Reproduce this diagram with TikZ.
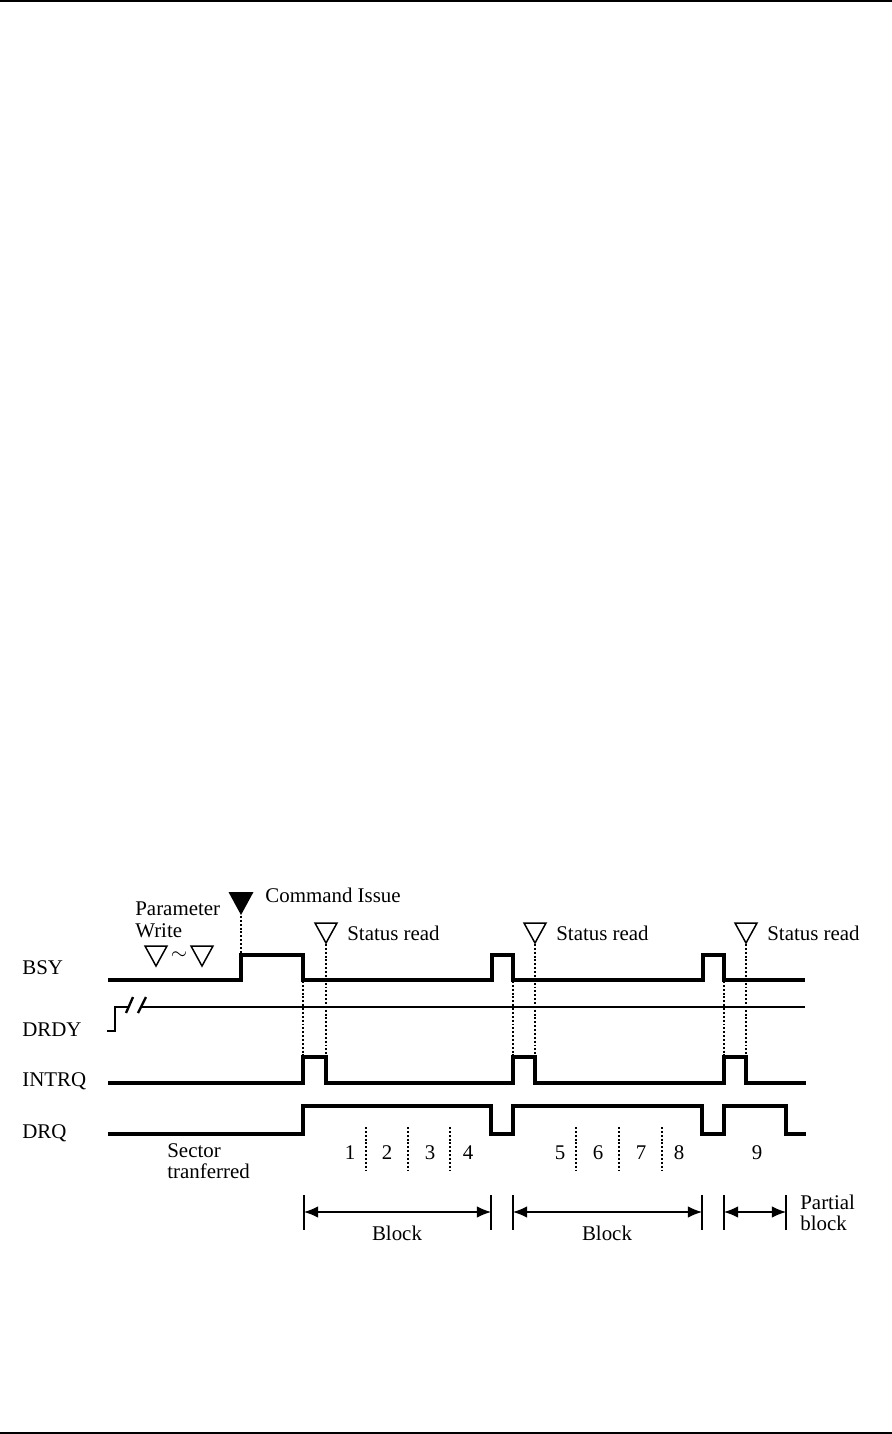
\documentclass[tikz,border=0pt]{standalone}
\usepackage{fontspec}
\setmainfont{Liberation Serif}
\usetikzlibrary{arrows.meta,positioning}

\begin{document}
\begin{tikzpicture}[x=0.02cm, y=-0.02cm, font=\fontsize{11.9}{12.2}\selectfont,
  sig/.style={line width=1.8pt, line join=miter},
  thinsig/.style={line width=1.35pt},
  mrk/.style={line width=1.3pt, dash pattern=on 1.1pt off 1.1pt},
  lbl/.style={anchor=west, inner sep=0pt, align=left},
  dim/.style={{Latex[length=8pt,width=6.5pt]}-{Latex[length=8pt,width=6.5pt]}, line width=0.7pt},
  bar/.style={line width=0.9pt},
  rd/.pic={\draw[line width=0.85pt] (-11,-10) -- (11,-10) -- (0,10) -- cycle;},
  cmdtri/.pic={\fill (-12.5,-11.5) -- (12.5,-11.5) -- (0,11.5) -- cycle;}]
\useasboundingbox (0,0) rectangle (892,1434);

% page rules
\draw[line width=1.2pt] (0,1) -- (892,1);
\draw[line width=1.2pt] (0,1433) -- (892,1433);

% signal names
\node[lbl] (bsy) at (22,968) {BSY};
\node[lbl] (drdy) at (22,1030) {DRDY};
\node[lbl] (intrq) at (22,1081) {INTRQ};
\node[lbl] (drq) at (22,1133) {DRQ};

% host actions
\node[lbl, text depth=0pt] (param) at (135,919.5) {Parameter\\Write};
\pic at (156,956) {rd};
\node[inner sep=0pt] (tld) at (179,956) {$\sim$};
\pic at (202,956) {rd};
\pic at (241,903.5) {cmdtri};
\node[lbl] (cmd) at (265,895) {Command Issue};
\foreach \x/\nm in {326/st1,535/st2,746/st3}{
  \pic at (\x,933) {rd};
  \node[lbl] (\nm) at (\x+21,933) {Status read};
}

% waveforms
\draw[sig] (108,980) -- (241,980) -- (241,955) -- (303,955) -- (303,980)
  -- (492,980) -- (492,955) -- (513,955) -- (513,980)
  -- (703,980) -- (703,955) -- (724,955) -- (724,980) -- (805,980);
\draw[thinsig] (107,1031) -- (115,1031) -- (115,1007) -- (129,1007);
\draw[thinsig] (142,1007) -- (805,1007);
\draw[thinsig] (126,1013) -- (133,997);
\draw[thinsig] (138,1013) -- (146,997);
\draw[sig] (108,1083) -- (303,1083) -- (303,1057) -- (326,1057) -- (326,1083)
  -- (513,1083) -- (513,1057) -- (535,1057) -- (535,1083)
  -- (724,1083) -- (724,1057) -- (746,1057) -- (746,1083) -- (806,1083);
\draw[sig] (108,1134) -- (303,1134) -- (303,1106) -- (491,1106) -- (491,1134)
  -- (513,1134) -- (513,1106) -- (702,1106) -- (702,1134)
  -- (724,1134) -- (724,1106) -- (786,1106) -- (786,1134) -- (806,1134);

% timing marks
\draw[mrk] (241,916) -- (241,955);
\foreach \x in {303,513,724}{\draw[mrk] (\x,981) -- (\x,1057);}
\foreach \x in {326,535,746}{\draw[mrk] (\x,944) -- (\x,1057);}

% sectors
\node[lbl] (sector) at (167,1161) {Sector\\tranferred};
\foreach \x/\n in {350/1,387/2,430/3,468/4,560/5,598/6,641/7,679/8,757/9}{
  \node[inner sep=0pt] (n\n) at (\x,1153) {\n};
}
\foreach \x in {366,408,450,576,619,662}{\draw[mrk] (\x,1127) -- (\x,1173);}

% blocks
\foreach \x [count=\i from 0] in {304,491,513,702,724,786}{
  \draw[bar] (\x,1195) -- (\x,1230);
  \coordinate (b\i) at (\x,1212);
}
\draw[dim] (b0) -- (b1);
\draw[dim] (b2) -- (b3);
\draw[dim] (b4) -- (b5);
\node[inner sep=0pt] (blk1) at (397,1233) {Block};
\node[inner sep=0pt] (blk2) at (607,1233) {Block};
\node[lbl] (part) at (800,1213) {Partial\\block};
\end{tikzpicture}
\end{document}
